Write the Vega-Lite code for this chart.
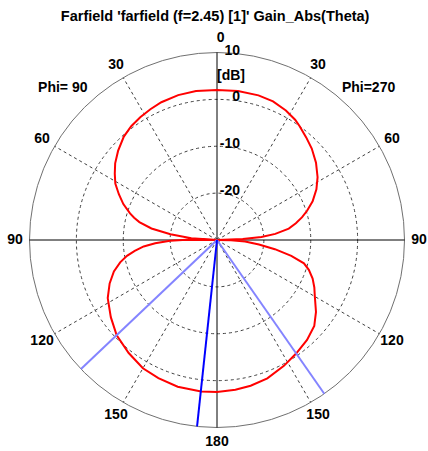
{
  "$schema": "https://vega.github.io/schema/vega-lite/v6.json",
  "width": 428,
  "height": 451,
  "autosize": {"type": "none"},
  "padding": 0,
  "background": "white",
  "config": {"view": {"stroke": null}, "text": {"font": "Liberation Sans", "fontWeight": "bold", "fontSize": 14, "color": "#000000"}},
  "datasets": {
    "rings": [{"r": 10, "kind": "grid"}, {"r": 20, "kind": "grid"}, {"r": 30, "kind": "grid"}],
    "outer": [{"r": 40}],
    "spokes": [{"a": 30}, {"a": 60}, {"a": 120}, {"a": 150}, {"a": 210}, {"a": 240}, {"a": 300}, {"a": 330}],
    "axes": [{"a": 0}, {"a": 90}, {"a": 180}, {"a": 270}],
    "beams": [{"a": 145.1, "kind": "3 dB"}, {"a": 226.5, "kind": "3 dB"}, {"a": 186.1, "kind": "main lobe"}],
    "curve": [
      {"a": 0, "g": 2.0}, {"a": 8, "g": 2.1}, {"a": 16, "g": 2.1}, {"a": 22, "g": 1.9}, {"a": 28, "g": 1.3},
      {"a": 33, "g": 0.6}, {"a": 36, "g": 0.0}, {"a": 41, "g": -1.0}, {"a": 46, "g": -1.9}, {"a": 52, "g": -3.2},
      {"a": 58, "g": -4.7}, {"a": 63, "g": -6.2}, {"a": 68, "g": -8.0}, {"a": 72, "g": -9.8}, {"a": 75, "g": -11.2},
      {"a": 78, "g": -12.8}, {"a": 81, "g": -14.5}, {"a": 84, "g": -17.5}, {"a": 86, "g": -20.5}, {"a": 88, "g": -24.5},
      {"a": 89.5, "g": -30}, {"a": 91, "g": -27}, {"a": 93, "g": -24}, {"a": 96, "g": -21}, {"a": 99, "g": -17.5},
      {"a": 102, "g": -13.8}, {"a": 105, "g": -10.8}, {"a": 108, "g": -9.4}, {"a": 112, "g": -8.0}, {"a": 116, "g": -6.9},
      {"a": 120, "g": -5.9}, {"a": 126, "g": -3.9}, {"a": 131.5, "g": -2.3}, {"a": 138, "g": -1.3}, {"a": 145, "g": -0.5},
      {"a": 152, "g": 0.4}, {"a": 160, "g": 1.4}, {"a": 167, "g": 1.9}, {"a": 173, "g": 2.2}, {"a": 180, "g": 2.4},
      {"a": 186, "g": 2.5}, {"a": 195, "g": 2.4}, {"a": 203, "g": 2.0}, {"a": 210, "g": 1.6}, {"a": 218, "g": 0.6},
      {"a": 226.5, "g": -0.5}, {"a": 234, "g": -2.0}, {"a": 242, "g": -3.6}, {"a": 248, "g": -5.3}, {"a": 253, "g": -7.0},
      {"a": 257, "g": -8.8}, {"a": 260, "g": -10.5}, {"a": 262.5, "g": -12.3}, {"a": 265, "g": -14.3}, {"a": 267, "g": -16.8},
      {"a": 269, "g": -20}, {"a": 270.5, "g": -23.5}, {"a": 272, "g": -30}, {"a": 274, "g": -24.5}, {"a": 277, "g": -20},
      {"a": 280, "g": -15.8}, {"a": 283, "g": -13}, {"a": 285, "g": -11.7}, {"a": 287, "g": -10.6}, {"a": 291, "g": -8.6},
      {"a": 295, "g": -6.9}, {"a": 299, "g": -5.2}, {"a": 303, "g": -4.0}, {"a": 307, "g": -2.8}, {"a": 312, "g": -1.6},
      {"a": 318, "g": -0.3}, {"a": 323, "g": 0.4}, {"a": 328, "g": 0.9}, {"a": 333, "g": 1.3}, {"a": 338, "g": 1.7},
      {"a": 345, "g": 2.0}, {"a": 352, "g": 2.1}, {"a": 360, "g": 2.0}
    ],
    "angleLabels": [
      {"text": "0", "a": 1, "r": 43.1},
      {"text": "30", "a": 30, "r": 43.1}, {"text": "60", "a": 60, "r": 43.1}, {"text": "90", "a": 90, "r": 43.1},
      {"text": "120", "a": 120, "r": 43.1}, {"text": "150", "a": 150, "r": 43.1}, {"text": "180", "a": 180, "r": 43.1},
      {"text": "150", "a": 210, "r": 43.1}, {"text": "120", "a": 240, "r": 43.1}, {"text": "90", "a": 270, "r": 43.1},
      {"text": "60", "a": 300, "r": 43.1}, {"text": "30", "a": 330, "r": 43.1},
      {"text": "Phi= 90", "a": 314.6, "r": 46.2}, {"text": "Phi=270", "a": 44.9, "r": 45.8}
    ],
    "dbLabels": [{"text": "10", "r": 40}, {"text": "0", "r": 30}, {"text": "-10", "r": 20}, {"text": "-20", "r": 10}]
  },
  "layer": [
    {
      "data": {"name": "rings"},
      "mark": {"type": "point", "shape": "circle", "filled": false, "color": "#404040", "opacity": 1, "strokeWidth": 1, "strokeDash": [3, 3]},
      "encoding": {
        "x": {"datum": 0, "type": "quantitative", "scale": {"domain": [-46.29, 45.01], "nice": false, "zero": false}, "axis": null},
        "y": {"datum": 0, "type": "quantitative", "scale": {"domain": [-45.01, 51.2], "nice": false, "zero": false}, "axis": null},
        "size": {"field": "r", "type": "quantitative", "scale": {"type": "pow", "exponent": 2, "domain": [0, 40], "range": [0, 140625], "zero": true}, "legend": null}
      }
    },
    {
      "data": {"name": "outer"},
      "mark": {"type": "point", "shape": "circle", "filled": false, "color": "#707070", "opacity": 1, "strokeWidth": 1},
      "encoding": {
        "x": {"datum": 0, "type": "quantitative"},
        "y": {"datum": 0, "type": "quantitative"},
        "size": {"field": "r", "type": "quantitative", "legend": null}
      }
    },
    {
      "data": {"name": "spokes"},
      "transform": [
        {"calculate": "0", "as": "sx"},
        {"calculate": "40 * sin(datum.a * PI / 180)", "as": "ex"},
        {"calculate": "40 * cos(datum.a * PI / 180)", "as": "ey"}
      ],
      "mark": {"type": "rule", "color": "#404040", "strokeWidth": 1, "strokeDash": [3, 3]},
      "encoding": {
        "x": {"field": "sx", "type": "quantitative"},
        "y": {"field": "sx", "type": "quantitative"},
        "x2": {"field": "ex"},
        "y2": {"field": "ey"}
      }
    },
    {
      "data": {"name": "axes"},
      "transform": [
        {"calculate": "0", "as": "sx"},
        {"calculate": "40 * sin(datum.a * PI / 180)", "as": "ex"},
        {"calculate": "40 * cos(datum.a * PI / 180)", "as": "ey"}
      ],
      "mark": {"type": "rule", "color": "#000000", "strokeWidth": 1},
      "encoding": {
        "x": {"field": "sx", "type": "quantitative"},
        "y": {"field": "sx", "type": "quantitative"},
        "x2": {"field": "ex"},
        "y2": {"field": "ey"}
      }
    },
    {
      "data": {"name": "curve"},
      "transform": [
        {"calculate": "max(0, datum.g + 30) * sin(datum.a * PI / 180)", "as": "px"},
        {"calculate": "max(0, datum.g + 30) * cos(datum.a * PI / 180)", "as": "py"}
      ],
      "mark": {"type": "line", "color": "#ff0000", "strokeWidth": 2},
      "encoding": {
        "x": {"field": "px", "type": "quantitative"},
        "y": {"field": "py", "type": "quantitative"},
        "order": {"field": "a", "type": "quantitative"}
      }
    },
    {
      "data": {"name": "beams"},
      "transform": [
        {"calculate": "0", "as": "sx"},
        {"calculate": "40 * sin(datum.a * PI / 180)", "as": "ex"},
        {"calculate": "40 * cos(datum.a * PI / 180)", "as": "ey"}
      ],
      "mark": {"type": "rule", "strokeWidth": 2},
      "encoding": {
        "x": {"field": "sx", "type": "quantitative"},
        "y": {"field": "sx", "type": "quantitative"},
        "x2": {"field": "ex"},
        "y2": {"field": "ey"},
        "color": {"field": "kind", "type": "nominal", "scale": {"domain": ["3 dB", "main lobe"], "range": ["#8484ff", "#0000ff"]}, "legend": null}
      }
    },
    {
      "data": {"name": "angleLabels"},
      "transform": [
        {"calculate": "datum.r * sin(datum.a * PI / 180)", "as": "px"},
        {"calculate": "datum.r * cos(datum.a * PI / 180)", "as": "py"}
      ],
      "mark": {"type": "text", "align": "center", "baseline": "middle"},
      "encoding": {
        "x": {"field": "px", "type": "quantitative"},
        "y": {"field": "py", "type": "quantitative"},
        "text": {"field": "text"}
      }
    },
    {
      "data": {"name": "dbLabels"},
      "mark": {"type": "text", "align": "right", "baseline": "alphabetic", "dx": 23, "dy": 2},
      "encoding": {
        "x": {"datum": 0, "type": "quantitative"},
        "y": {"field": "r", "type": "quantitative"},
        "text": {"field": "text"}
      }
    },
    {
      "data": {"values": [{"text": "[dB]", "r": 34.1}]},
      "mark": {"type": "text", "align": "left", "baseline": "alphabetic", "dx": 0},
      "encoding": {
        "x": {"datum": 0, "type": "quantitative"},
        "y": {"field": "r", "type": "quantitative"},
        "text": {"field": "text"}
      }
    },
    {
      "data": {"values": [{"text": "Farfield 'farfield (f=2.45) [1]' Gain_Abs(Theta)"}]},
      "mark": {"type": "text", "align": "center", "baseline": "middle", "fontSize": 14.5},
      "encoding": {
        "x": {"datum": -0.4, "type": "quantitative"},
        "y": {"datum": 47.6, "type": "quantitative"},
        "text": {"field": "text"}
      }
    }
  ]
}
